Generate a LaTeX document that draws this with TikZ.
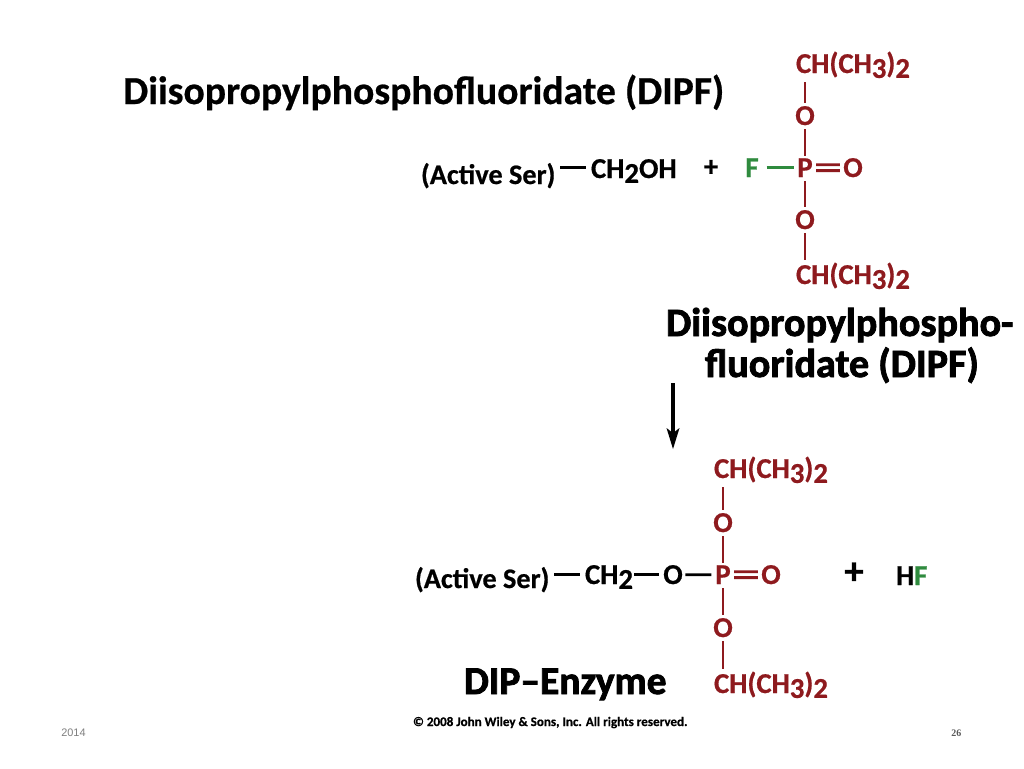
\documentclass[tikz,border=0pt]{standalone}
\usepackage{fontspec}
\setmainfont[BoldFont=Carlito Bold,BoldFeatures={FakeBold=0.6}]{Carlito}
\newfontfamily\hvy[BoldFont=Carlito Bold,BoldFeatures={FakeBold=2}]{Carlito}
\newfontfamily\hv{Liberation Sans}
\newfontfamily\tm{Liberation Serif}
\definecolor{dred}{HTML}{8E1A1E}
\definecolor{dgreen}{HTML}{2F8B3E}
\definecolor{gtxt}{HTML}{7F7F7F}
\newcommand{\dn}[1]{\raisebox{-0.35ex}{#1}}
\newcommand{\CHgroup}{CH(CH\dn{3})\dn{2}}
\tikzset{
  chem/.style={inner sep=0pt,outer sep=0pt,font=\fontsize{21.6pt}{24pt}\selectfont\bfseries,text=black,anchor=base west},
  serlabel/.style={chem,font=\fontsize{21.2pt}{24pt}\selectfont\bfseries},
  atomr/.style={chem,text=dred,anchor=base},
  atomg/.style={chem,text=dgreen,anchor=base},
  atomk/.style={chem,anchor=base},
  groupr/.style={chem,text=dred},
  bondr/.style={draw=dred,line width=2.2pt},
  bondg/.style={draw=dgreen,line width=2.1pt},
  bondk/.style={draw=black,line width=2.1pt},
  head/.style={inner sep=0pt,outer sep=0pt,anchor=base west,font=\hvy\fontsize{30.1pt}{32pt}\selectfont\bfseries},
  vb/.style={shorten <=3pt,shorten >=2pt},
  hb/.style={shorten <=2.5pt,shorten >=2.5pt}
}
\begin{document}
\begin{tikzpicture}[x=0.75pt,y=-0.75pt]
\useasboundingbox (0,0) rectangle (1024,768);
\fill[white] (0,0) rectangle (1024,768);

\node[inner sep=0pt,anchor=base west,font=\fontsize{29.7pt}{32pt}\selectfont\bfseries] (title) at (123,104) {Diisopropylphosphofluoridate (DIPF)};

% top reactants
\node[groupr] (t1) at (796,73) {\CHgroup};
\node[atomr] (tO1) at (805,125) {O};
\node[atomr] (tP) at (805,177) {P};
\node[atomr] (tOd) at (853,177) {O};
\node[atomr] (tO2) at (805,229) {O};
\node[groupr] (t2) at (796,284) {\CHgroup};
\node[atomg] (tF) at (752,177) {F};
\node[atomk] (tplus) at (711,176) {+};
\node[chem] (tch) at (591,178) {CH\dn{2}OH};
\node[serlabel] (tser) at (421,184) {(Active Ser)};

\draw[bondr,vb] (tO1.north |- t1.south) -- (tO1.north);
\draw[bondr,vb] (tO1.south) -- (tP.north);
\draw[bondr,vb] (tP.south) -- (tO2.north);
\draw[bondr,vb] (tO2.south) -- (tO2.south |- t2.north);
\draw[bondr,hb,transform canvas={yshift=2.2pt}] (tP.east) -- (tOd.west);
\draw[bondr,hb,transform canvas={yshift=-2.2pt}] (tP.east) -- (tOd.west);
\draw[bondg,shorten <=6pt,shorten >=2.5pt] (tF.east) -- (tP.west);
\draw[bondk,shorten <=3.5pt,shorten >=4pt] (tser.east |- tF.east) -- (tch.west |- tF.east);

\node[head] (h1) at (666,336) {Diisopropylphospho-};
\node[head] (h2) at (705,377) {fluoridate (DIPF)};

% reaction arrow
\coordinate (as) at (673,383);
\coordinate (ae) at (673,449);
\draw[line width=2.3pt] (as) -- (673,435);
\fill (666.5,428) -- (673,433) -- (679.5,428) -- (ae) -- cycle;

% bottom product
\node[groupr] (b1) at (714,478) {\CHgroup};
\node[atomr] (bO1) at (723,532) {O};
\node[atomr] (bP) at (723,584) {P};
\node[atomr] (bOd) at (771,584) {O};
\node[atomr] (bO2) at (723,637) {O};
\node[groupr] (b2) at (714,693) {\CHgroup};
\node[atomk] (bO) at (673,584) {O};
\node[chem] (bch) at (585,584) {CH\dn{2}};
\node[serlabel] (bser) at (415,588) {(Active Ser)};
\node[atomk,font=\fontsize{29pt}{30pt}\selectfont\bfseries] (bplus) at (854,584) {+};
\node[chem] (bhf) at (896,585) {H\textcolor{dgreen}{F}};

\draw[bondr,vb] (bO1.north |- b1.south) -- (bO1.north);
\draw[bondr,vb] (bO1.south) -- (bP.north);
\draw[bondr,vb] (bP.south) -- (bO2.north);
\draw[bondr,vb] (bO2.south) -- (bO2.south |- b2.north);
\draw[bondr,hb,transform canvas={yshift=2.2pt}] (bP.east) -- (bOd.west);
\draw[bondr,hb,transform canvas={yshift=-2.2pt}] (bP.east) -- (bOd.west);
\draw[bondk,shorten <=2pt,shorten >=3pt] (bO.east) -- (bP.west);
\draw[bondk,shorten <=1pt,shorten >=3pt] (bch.east |- bO.east) -- (bO.west);
\draw[bondk,shorten <=3.5pt,shorten >=4pt] (bser.east |- bO.east) -- (bch.west |- bO.east);

\node[head,font=\hvy\fontsize{29.6pt}{32pt}\selectfont\bfseries] (dip) at (464,694) {DIP–Enzyme};
\node[chem,font=\fontsize{9.8pt}{12pt}\selectfont\bfseries] (copy) at (413,726) {© 2008 John Wiley \& Sons, Inc. All rights reserved.};

\node[inner sep=0pt,anchor=base west,text=gtxt,font=\hv\fontsize{8.2pt}{10pt}\selectfont] (yr) at (61,736) {2014};
\node[inner sep=0pt,anchor=base west,text=gtxt!70!black,font=\tm\bfseries\fontsize{7.5pt}{9pt}\selectfont] (pg) at (951,736) {26};
\end{tikzpicture}
\end{document}
